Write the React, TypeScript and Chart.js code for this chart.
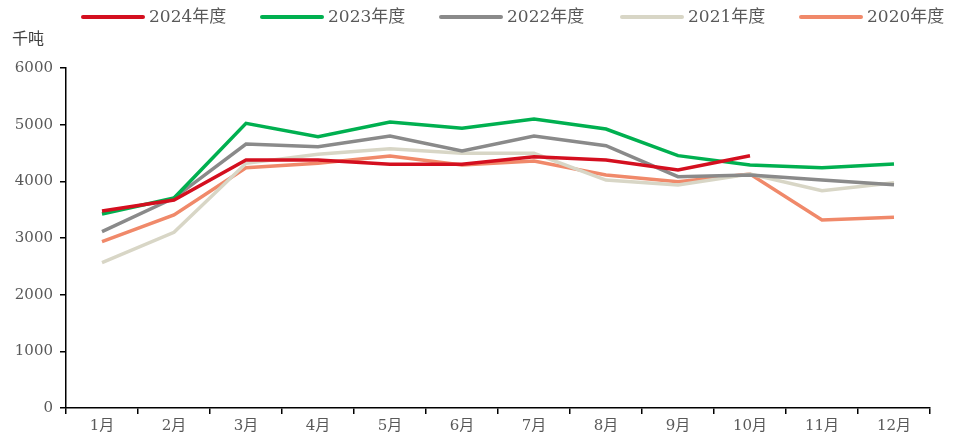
import React, { useEffect, useRef } from "react";
import { Chart, registerables } from "chart.js";

Chart.register(...registerables);

const months = ["1月", "2月", "3月", "4月", "5月", "6月", "7月", "8月", "9月", "10月", "11月", "12月"];
const s2024 = [3476, 3670, 4376, 4376, 4300, 4300, 4435, 4376, 4200, 4450, null, null];
const s2023 = [3424, 3705, 5024, 4788, 5047, 4935, 5100, 4923, 4453, 4288, 4240, 4305];
const s2022 = [3112, 3705, 4659, 4611, 4800, 4535, 4800, 4629, 4082, 4112, 4023, 3940];
const s2021 = [2565, 3100, 4318, 4476, 4576, 4494, 4494, 4023, 3935, 4129, 3835, 3976];
const s2020 = [2935, 3406, 4240, 4318, 4447, 4288, 4359, 4112, 3994, 4129, 3318, 3365];
const seriesNames = ["2024年度", "2023年度", "2022年度", "2021年度", "2020年度"];
const seriesColors = ["#D40F1F", "#00B050", "#8A8A8A", "#D8D6C6", "#F0896A"];
const unitLabel = "千吨";

const FONT = "'DejaVu Serif', 'Noto Sans CJK SC', serif";

const overlayPlugin = {
  id: "overlay",
  afterDraw(chart: any) {
    const ctx = chart.ctx;
    ctx.save();
    ctx.font = `16px ${FONT}`;
    ctx.fillStyle = "#404040";
    ctx.textBaseline = "middle";
    ctx.textAlign = "left";
    ctx.fillText(unitLabel, 12, 40);
    const starts = [83, 262, 441, 622, 801];
    chart.data.datasets.forEach((ds: any, i: number) => {
      const x = starts[i];
      const y = 17;
      ctx.strokeStyle = ds.borderColor;
      ctx.lineWidth = 4;
      ctx.lineCap = "round";
      ctx.beginPath();
      ctx.moveTo(x, y);
      ctx.lineTo(x + 60, y);
      ctx.stroke();
      ctx.fillStyle = "#595959";
      ctx.font = `17px ${FONT}`;
      ctx.fillText(ds.label, x + 66, y + 1);
    });
    ctx.restore();
  },
};

export default function App() {
  const ref = useRef<HTMLCanvasElement>(null);
  useEffect(() => {
    document.body.style.margin = "0";
    const names = seriesNames;
    const all = [s2024, s2023, s2022, s2021, s2020];
    const chart = new Chart(ref.current!, {
      type: "line",
      data: {
        labels: months,
        datasets: all.map((d, i) => ({
          label: names[i],
          data: d,
          borderColor: seriesColors[i],
          backgroundColor: seriesColors[i],
          borderWidth: 3.5,
          pointRadius: 0,
          tension: 0,
          spanGaps: false,
        })),
      },
      options: {
        responsive: false,
        animation: false,
        layout: { padding: { top: 68, right: 23, left: 0, bottom: 0 } },
        plugins: { legend: { display: false }, tooltip: { enabled: false } },
        scales: {
          x: {
            offset: true,
            grid: { offset: true, drawOnChartArea: false, drawTicks: true, tickLength: 6, color: "#000", lineWidth: 1.5 },
            border: { color: "#000", width: 1.5 },
            ticks: { color: "#595959", font: { family: FONT, size: 15 }, padding: 3, maxRotation: 0 },
            afterFit(scale: any) { scale.height = 27; },
          },
          y: {
            min: 0,
            max: 6000,
            grid: { drawOnChartArea: false, drawTicks: true, tickLength: 6, color: "#000", lineWidth: 1.5 },
            border: { color: "#000", width: 1.5 },
            ticks: {
              stepSize: 1000,
              color: "#595959",
              font: { family: FONT, size: 15 },
              padding: 7,
              callback: (v: any) => String(v),
            },
            afterFit(scale: any) { scale.width = 66; },
          },
        },
      },
      plugins: [overlayPlugin],
    });
    return () => chart.destroy();
  }, []);
  return (
    <div style={{ width: 953, height: 435 }}>
      <canvas ref={ref} width={953} height={435} />
    </div>
  );
}
